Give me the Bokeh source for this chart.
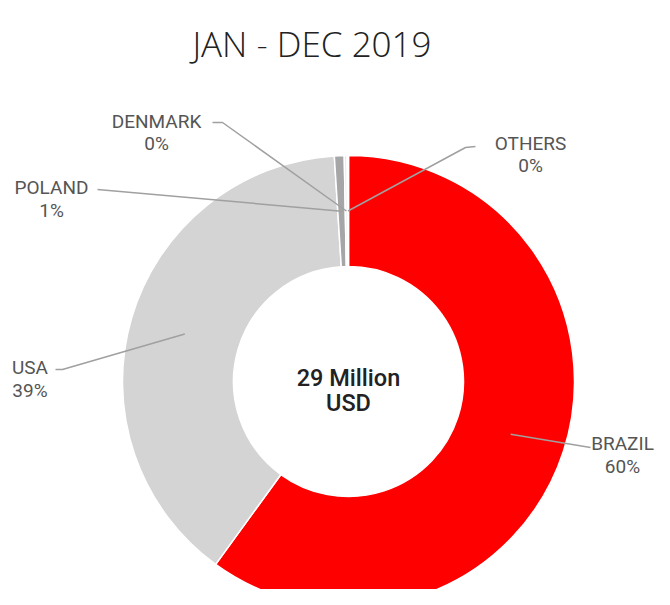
import numpy as np
from bokeh.plotting import figure
from bokeh.models import Range1d, ColumnDataSource
from bokeh.core.properties import value
from bokeh.embed import file_html
from bokeh.resources import INLINE

# ---- data ----
countries = ["BRAZIL", "USA", "POLAND", "DENMARK", "OTHERS"]
shares = [60.0, 39.0, 0.7, 0.2, 0.1]
colors = ["#ff0000", "#d4d4d4", "#a6a6a6", "#e8e8e8", "#f2f2f2"]
center_lines = ["29 Million", "USD"]
title_text = "JAN - DEC 2019"

# ---- layout (pixel positions, y measured from the top) ----
W, H = 654, 589


def Y(y):
    return H - y


cx, cy = 348, Y(381)
r_in, r_out = 115, 226
r_mid = (r_in + r_out) / 2

label_x = [622, 29.5, 51, 156, 530]
name_base = [443, 367, 187, 120.5, 143]
pct_base = [466, 390, 210, 143, 165]
leader_pts = [
    [(590, 447)],
    [(62, 369), (55, 369)],
    [(97, 189)],
    [(222, 122), (212, 122)],
    [(465, 147), (475, 146)],
]

frac = np.array(shares) / sum(shares)
cum = np.concatenate([[0], np.cumsum(frac)])
start = np.pi / 2 - cum[1:] * 2 * np.pi
end = np.pi / 2 - cum[:-1] * 2 * np.pi
mid = (start + end) / 2
pct = [f"{int(round(v))}%" for v in frac * 100]

p = figure(width=W, height=H,
           x_range=Range1d(0, W), y_range=Range1d(0, H),
           output_backend="svg", toolbar_location=None, min_border=0)
p.axis.visible = False
p.grid.visible = False
p.outline_line_color = None
p.background_fill_color = "white"
p.border_fill_color = "white"

src = ColumnDataSource(dict(start=start, end=end, color=colors))
p.annular_wedge(x=cx, y=cy, inner_radius=r_in, outer_radius=r_out,
                start_angle="start", end_angle="end", fill_color="color",
                line_color="white", line_width=1.5, source=src)

# leader lines
xs, ys = [], []
for a, pts in zip(mid, leader_pts):
    lx = [cx + r_mid * np.cos(a)] + [q[0] for q in pts]
    ly = [cy + r_mid * np.sin(a)] + [Y(q[1]) for q in pts]
    xs.append(lx)
    ys.append(ly)
p.multi_line(xs=xs, ys=ys, line_color="#a0a0a0", line_width=1.5)

lab_font = value("Roboto")
p.text(x=label_x, y=[Y(v) for v in name_base], text=countries,
       text_align="center", text_baseline="alphabetic",
       text_font=lab_font, text_font_size="19px", text_color="#555555")
p.text(x=label_x, y=[Y(v) for v in pct_base], text=pct,
       text_align="center", text_baseline="alphabetic",
       text_font=lab_font, text_font_size="19px", text_color="#555555")

p.text(x=[cx, cx], y=[Y(377), Y(402)], text=center_lines,
       text_align="center", text_baseline="alphabetic",
       text_font=value("Roboto Medium, Roboto"), text_font_size="23.5px",
       text_color="#222222")

p.text(x=[311.5], y=[Y(43)], text=[title_text],
       text_align="center", text_baseline="alphabetic",
       text_font=value("Open Sans Light, Open Sans"), text_font_size="35px",
       text_color="#222222")

open("out.html", "w").write(file_html(p, INLINE))
